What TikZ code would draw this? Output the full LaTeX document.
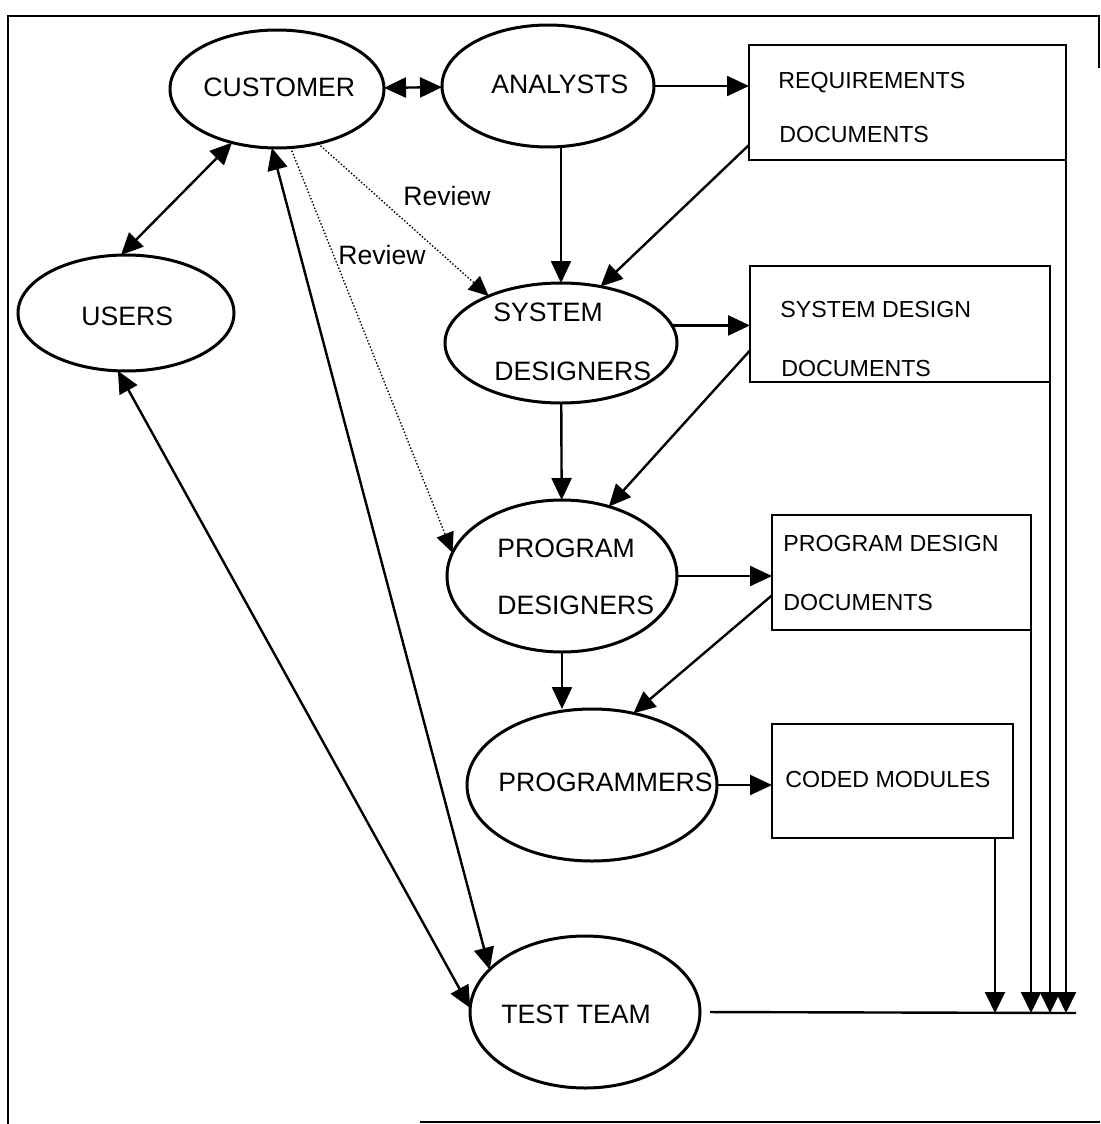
\documentclass[tikz,border=0pt]{standalone}
\usepackage{fontspec}
\setmainfont{Liberation Sans}
\usetikzlibrary{arrows.meta,calc,shapes.geometric}
\begin{document}
\begin{tikzpicture}[x=0.5pt,y=-0.5pt,
  ell/.style={draw,ellipse,line width=1.5pt,inner sep=0pt,outer sep=0pt},
  doc/.style={draw,rectangle,line width=1.1pt,inner sep=0pt,outer sep=0pt},
  big/.style={font=\fontsize{13.3pt}{16pt}\selectfont,anchor=base west,inner sep=0pt},
  small/.style={font=\fontsize{11.6pt}{14pt}\selectfont,anchor=base west,inner sep=0pt},
  arr/.style={line width=1.2pt,-{Triangle[length=11pt,width=10pt]}},
  busarr/.style={line width=1pt,-{Triangle[length=10.5pt,width=10pt]}},
  dbl/.style={line width=1.2pt,{Triangle[length=11pt,width=10pt]}-{Triangle[length=11pt,width=10pt]}},
  rev/.style={line width=0.7pt,densely dotted,-{Triangle[length=10pt,width=9pt]}},
  frame/.style={line width=1.2pt}]
\useasboundingbox (0,0) rectangle (1100,1124);

% frame
\draw[frame] (8,1124) -- (8,16) -- (1099,16) -- (1099,68);
\draw[frame] (420,1122) -- (1100,1122);

% ellipses
\node[ell,minimum width=107pt,minimum height=59pt] (cust) at (277,89) {};
\node[ell,minimum width=106pt,minimum height=61pt] (anal) at (548,86) {};
\node[ell,minimum width=108pt,minimum height=58pt] (users) at (126,313) {};
\node[ell,minimum width=116pt,minimum height=60pt] (sysd) at (561,343) {};
\node[ell,minimum width=115pt,minimum height=76pt] (pd) at (562,576) {};
\node[ell,minimum width=125pt,minimum height=76pt] (prog) at (592,785) {};
\node[ell,minimum width=115pt,minimum height=76pt] (test) at (585,1012) {};

% document boxes
\node[doc,minimum width=158.5pt,minimum height=57.5pt] (req) at (907.5,102.5) {};
\node[doc,minimum width=150pt,minimum height=58pt] (sdd) at (900,324) {};
\node[doc,minimum width=129.5pt,minimum height=57.5pt] (pdd) at (901.5,572.5) {};
\node[doc,minimum width=120.5pt,minimum height=57pt] (cm) at (892.5,781) {};

% texts
\node[big] (tcust) at (203,96) {CUSTOMER};
\node[big] (tanal) at (491,93) {ANALYSTS};
\node[big] (tusers) at (81,325) {USERS};
\node[big] (tsys1) at (493,321) {SYSTEM};
\node[big] (tsys2) at (494,380) {DESIGNERS};
\node[big] (tpd1) at (497,557) {PROGRAM};
\node[big] (tpd2) at (497,614) {DESIGNERS};
\node[big] (tprog) at (498,791) {PROGRAMMERS};
\node[big] (ttest) at (501,1023) {TEST TEAM};
\node[big] (rev1) at (403,205) {Review};
\node[big] (rev2) at (338,264) {Review};
\node[small] (treq1) at (778,88) {REQUIREMENTS};
\node[small] (treq2) at (779,142) {DOCUMENTS};
\node[small] (tsdd1) at (780,317) {SYSTEM DESIGN};
\node[small] (tsdd2) at (781,376) {DOCUMENTS};
\node[small] (tpdd1) at (783,551) {PROGRAM DESIGN};
\node[small] (tpdd2) at (783,610) {DOCUMENTS};
\node[small] (tcm) at (785,787) {CODED MODULES};

% connectors
\draw[dbl] (cust) -- (anal);
\draw[arr] (anal.east) -- (anal.east -| req.west);
\draw[arr] (sysd.north |- anal.south) -- (sysd.north);
\draw[arr] (req.195) -- (sysd.55);
\draw[arr] (sysd.9) -- (sysd.9 -| sdd.west);
\draw[arr] (sdd.190) -- (pd.56);
\draw[arr] (sysd) -- (pd);
\draw[arr] (pd.east) -- (pd.east -| pdd.west);
\draw[arr] (pdd.190) -- (prog.60);
\draw[arr] (pd.south) -- (pd.south |- prog.north);
\draw[arr] (prog.east) -- (prog.east -| cm.west);
\draw[dbl] (cust.230) -- (users.95);
\draw[dbl] (users.262) -- (test.178);
\draw[dbl] (cust.265) -- (test.156);
\draw[rev] (cust.-53) -- (sysd.147);
\draw[rev] (cust.-77) -- (pd.168);

% bus to the right
\coordinate (busend) at (1076,1013);
\coordinate (cmout) at ($(cm.south east)+(-18,0)$);
\draw[line width=1.2pt,shorten <=5pt] (test.east) -- (busend);
\draw[busarr] (cmout) -- (cmout |- busend);
\draw[busarr] (pdd.south east) -- (pdd.south east |- busend);
\draw[busarr] (sdd.south east) -- (sdd.south east |- busend);
\draw[busarr] (req.south east) -- (req.south east |- busend);
\end{tikzpicture}
\end{document}
